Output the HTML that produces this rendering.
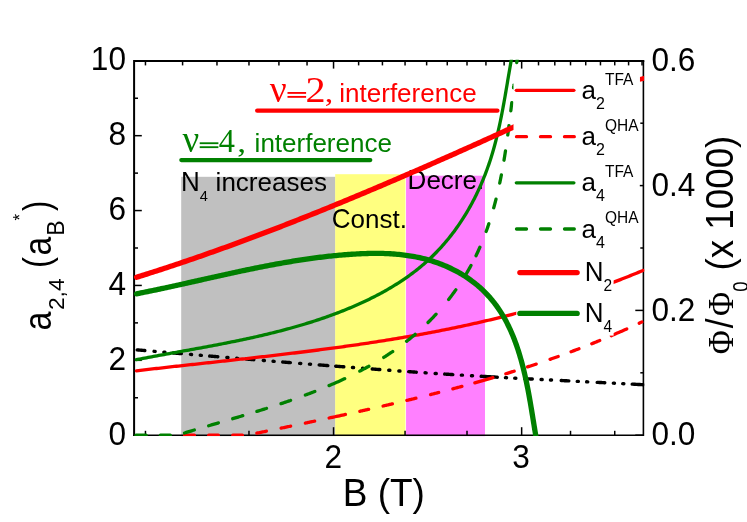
<!DOCTYPE html>
<html><head><meta charset="utf-8"><title>chart</title>
<style>
html,body{margin:0;padding:0;background:#fff;}
body{width:747px;height:522px;overflow:hidden;font-family:"Liberation Sans",sans-serif;}
svg{display:block;will-change:transform;}
</style></head><body>
<svg width="747" height="522" viewBox="0 0 747 522">
<rect width="747" height="522" fill="#fff"/>
<!-- shaded regions -->
<rect x="181.2" y="176.8" width="154.2" height="259.4" fill="#c0c0c0"/>
<rect x="335.2" y="174.2" width="70.2" height="262" fill="#ffff80"/>
<rect x="406.05" y="175.7" width="78.95" height="260.5" fill="#ff80ff"/>
<!-- region labels -->
<text transform="translate(181.00,190.60) scale(1,1.040)" font-size="26.00" font-family="Liberation Sans, sans-serif" >N<tspan font-size="14.6" dy="10.2">4</tspan></text><text transform="translate(215.62,190.50) scale(1,1.000)" font-size="26.00" font-family="Liberation Sans, sans-serif" >increases</text>
<text transform="translate(331.80,227.70) scale(1,1.040)" font-size="26.00" font-family="Liberation Sans, sans-serif" >C</text><text transform="translate(350.58,227.70) scale(1,1.000)" font-size="26.00" font-family="Liberation Sans, sans-serif" >onst.</text>
<text transform="translate(407.60,189.30) scale(1,1.040)" font-size="26.00" font-family="Liberation Sans, sans-serif" >D</text><text transform="translate(426.38,189.30) scale(1,1.000)" font-size="26.00" font-family="Liberation Sans, sans-serif" >ecre.</text>
<!-- frame -->
<path d="M134.0 436.0V60.8H644.1999999999999" fill="none" stroke="#000" stroke-width="2" stroke-linejoin="miter" transform="translate(0.1,0.1)"/>
<path d="M133.0 435.2H643.4V60.8" fill="none" stroke="#000" stroke-width="1.6" stroke-linejoin="miter"/>
<line x1="134.00" y1="435.20" x2="141.80" y2="435.20" stroke="#000" stroke-width="1.50"/><line x1="134.00" y1="397.76" x2="138.00" y2="397.76" stroke="#000" stroke-width="1.50"/><line x1="134.00" y1="360.32" x2="141.80" y2="360.32" stroke="#000" stroke-width="1.50"/><line x1="134.00" y1="322.88" x2="138.00" y2="322.88" stroke="#000" stroke-width="1.50"/><line x1="134.00" y1="285.44" x2="141.80" y2="285.44" stroke="#000" stroke-width="1.50"/><line x1="134.00" y1="248.00" x2="138.00" y2="248.00" stroke="#000" stroke-width="1.50"/><line x1="134.00" y1="210.56" x2="141.80" y2="210.56" stroke="#000" stroke-width="1.50"/><line x1="134.00" y1="173.12" x2="138.00" y2="173.12" stroke="#000" stroke-width="1.50"/><line x1="134.00" y1="135.68" x2="141.80" y2="135.68" stroke="#000" stroke-width="1.50"/><line x1="134.00" y1="98.24" x2="138.00" y2="98.24" stroke="#000" stroke-width="1.50"/><line x1="134.00" y1="60.80" x2="141.80" y2="60.80" stroke="#000" stroke-width="1.50"/><line x1="643.40" y1="435.20" x2="635.30" y2="435.20" stroke="#000" stroke-width="1.50"/><line x1="643.40" y1="372.80" x2="640.30" y2="372.80" stroke="#000" stroke-width="1.50"/><line x1="643.40" y1="310.40" x2="635.30" y2="310.40" stroke="#000" stroke-width="1.50"/><line x1="643.40" y1="248.00" x2="640.30" y2="248.00" stroke="#000" stroke-width="1.50"/><line x1="643.40" y1="185.60" x2="635.30" y2="185.60" stroke="#000" stroke-width="1.50"/><line x1="643.40" y1="123.20" x2="640.30" y2="123.20" stroke="#000" stroke-width="1.50"/><line x1="643.40" y1="60.80" x2="635.30" y2="60.80" stroke="#000" stroke-width="1.50"/><line x1="145.46" y1="60.80" x2="145.46" y2="65.40" stroke="#000" stroke-width="1.50"/><line x1="182.59" y1="60.80" x2="182.59" y2="65.40" stroke="#000" stroke-width="1.50"/><line x1="216.97" y1="60.80" x2="216.97" y2="65.40" stroke="#000" stroke-width="1.50"/><line x1="248.97" y1="60.80" x2="248.97" y2="65.40" stroke="#000" stroke-width="1.50"/><line x1="278.91" y1="60.80" x2="278.91" y2="65.40" stroke="#000" stroke-width="1.50"/><line x1="307.04" y1="60.80" x2="307.04" y2="65.40" stroke="#000" stroke-width="1.50"/><line x1="333.55" y1="60.80" x2="333.55" y2="68.60" stroke="#000" stroke-width="1.50"/><line x1="358.63" y1="60.80" x2="358.63" y2="65.40" stroke="#000" stroke-width="1.50"/><line x1="382.43" y1="60.80" x2="382.43" y2="65.40" stroke="#000" stroke-width="1.50"/><line x1="405.06" y1="60.80" x2="405.06" y2="65.40" stroke="#000" stroke-width="1.50"/><line x1="426.64" y1="60.80" x2="426.64" y2="65.40" stroke="#000" stroke-width="1.50"/><line x1="447.26" y1="60.80" x2="447.26" y2="65.40" stroke="#000" stroke-width="1.50"/><line x1="467.01" y1="60.80" x2="467.01" y2="65.40" stroke="#000" stroke-width="1.50"/><line x1="485.94" y1="60.80" x2="485.94" y2="65.40" stroke="#000" stroke-width="1.50"/><line x1="504.14" y1="60.80" x2="504.14" y2="65.40" stroke="#000" stroke-width="1.50"/><line x1="521.65" y1="60.80" x2="521.65" y2="68.60" stroke="#000" stroke-width="1.50"/><line x1="538.52" y1="60.80" x2="538.52" y2="65.40" stroke="#000" stroke-width="1.50"/><line x1="554.80" y1="60.80" x2="554.80" y2="65.40" stroke="#000" stroke-width="1.50"/><line x1="570.52" y1="60.80" x2="570.52" y2="65.40" stroke="#000" stroke-width="1.50"/><line x1="585.73" y1="60.80" x2="585.73" y2="65.40" stroke="#000" stroke-width="1.50"/><line x1="600.46" y1="60.80" x2="600.46" y2="65.40" stroke="#000" stroke-width="1.50"/><line x1="614.74" y1="60.80" x2="614.74" y2="65.40" stroke="#000" stroke-width="1.50"/><line x1="628.59" y1="60.80" x2="628.59" y2="65.40" stroke="#000" stroke-width="1.50"/><line x1="642.03" y1="60.80" x2="642.03" y2="65.40" stroke="#000" stroke-width="1.50"/><line x1="145.46" y1="435.20" x2="145.46" y2="430.80" stroke="#000" stroke-width="1.50"/><line x1="248.97" y1="435.20" x2="248.97" y2="430.80" stroke="#000" stroke-width="1.50"/><line x1="333.55" y1="435.20" x2="333.55" y2="427.20" stroke="#000" stroke-width="1.50"/><line x1="405.06" y1="435.20" x2="405.06" y2="430.80" stroke="#000" stroke-width="1.50"/><line x1="467.01" y1="435.20" x2="467.01" y2="430.80" stroke="#000" stroke-width="1.50"/><line x1="521.65" y1="435.20" x2="521.65" y2="427.20" stroke="#000" stroke-width="1.50"/><line x1="570.52" y1="435.20" x2="570.52" y2="430.80" stroke="#000" stroke-width="1.50"/><line x1="614.74" y1="435.20" x2="614.74" y2="430.80" stroke="#000" stroke-width="1.50"/>
<!-- data curves -->
<clipPath id="pc"><rect x="133.1" y="59.8" width="511.2" height="376.3"/></clipPath>
<g fill="none" stroke-linejoin="round" clip-path="url(#pc)">
<path d="M137.19 349.88L137.50 349.90L138.00 349.95L138.50 349.99L139.00 350.03L139.50 350.08L140.00 350.12L140.50 350.16L141.00 350.21L141.50 350.25L142.00 350.29L142.50 350.34L143.00 350.38L143.50 350.42L144.00 350.47L144.50 350.51L144.81 350.54M173.19 352.97L173.50 353.00L174.00 353.04L174.50 353.08L175.00 353.13L175.50 353.17L176.00 353.21L176.50 353.25L177.00 353.30L177.50 353.34L178.00 353.38L178.50 353.42L179.00 353.47L179.50 353.51L180.00 353.55L180.50 353.59L181.00 353.64L181.31 353.66M209.69 356.05L210.00 356.07L210.50 356.12L211.00 356.16L211.50 356.20L212.00 356.24L212.50 356.28L213.00 356.32L213.50 356.37L214.00 356.41L214.50 356.45L215.00 356.49L215.50 356.53L216.00 356.57L216.50 356.62L217.00 356.66L217.50 356.70L217.81 356.72M246.19 359.06L246.50 359.09L247.00 359.13L247.50 359.17L248.00 359.21L248.50 359.25L249.00 359.29L249.50 359.33L250.00 359.37L250.50 359.41L251.00 359.46L251.50 359.50L252.00 359.54L252.50 359.58L253.00 359.62L253.50 359.66L253.81 359.68M282.69 362.02L283.00 362.04L283.50 362.08L284.00 362.12L284.50 362.16L285.00 362.20L285.50 362.24L286.00 362.28L286.50 362.32L287.00 362.36L287.50 362.40L288.00 362.44L288.50 362.48L289.00 362.52L289.50 362.56L290.00 362.60L290.31 362.62M319.19 364.91L319.50 364.93L320.00 364.97L320.50 365.01L321.00 365.05L321.50 365.09L322.00 365.13L322.50 365.17L323.00 365.21L323.50 365.24L324.00 365.28L324.50 365.32L325.00 365.36L325.50 365.40L326.00 365.44L326.50 365.48L327.00 365.52L327.50 365.56L327.81 365.58M335.69 366.19L336.00 366.22L336.50 366.26L337.00 366.30L337.50 366.33L338.00 366.37L338.50 366.41L339.00 366.45L339.50 366.49L340.00 366.53L340.50 366.57L341.00 366.61L341.50 366.64L342.00 366.68L342.50 366.72L343.00 366.76L343.50 366.80L343.81 366.82M372.20 369.00L372.50 369.02L373.00 369.06L373.50 369.10L374.00 369.13L374.50 369.17L375.00 369.21L375.50 369.25L376.00 369.28L376.50 369.32L377.00 369.36L377.50 369.40L378.00 369.43L378.50 369.47L379.00 369.51L379.50 369.55L379.80 369.57M408.70 371.65L409.00 371.67L409.50 371.71L410.00 371.74L410.50 371.78L411.00 371.81L411.50 371.85L412.00 371.88L412.50 371.92L413.00 371.95L413.50 371.99L414.00 372.02L414.50 372.05L415.00 372.09L415.50 372.12L416.00 372.16L416.30 372.18M444.70 374.06L445.00 374.08L445.50 374.11L446.00 374.15L446.50 374.18L447.00 374.21L447.50 374.24L448.00 374.27L448.50 374.30L449.00 374.34L449.50 374.37L450.00 374.40L450.50 374.43L451.00 374.46L451.50 374.49L452.00 374.53L452.50 374.56L452.80 374.58M481.20 376.29L482.50 376.37L484.00 376.46L485.50 376.54L487.00 376.63L488.50 376.72L490.00 376.80L491.50 376.89L493.00 376.97L494.50 377.05L496.00 377.14L497.30 377.21M524.70 378.68L525.00 378.69L525.50 378.72L526.00 378.74L526.50 378.77L527.00 378.79L527.50 378.82L528.00 378.84L528.50 378.87L529.00 378.90L529.50 378.92L530.00 378.95L530.50 378.97L531.00 379.00L531.50 379.02L532.00 379.05L532.30 379.06M561.20 380.52L561.50 380.54L562.00 380.56L562.50 380.59L563.00 380.61L563.50 380.64L564.00 380.66L564.50 380.69L565.00 380.71L565.50 380.74L566.00 380.76L566.50 380.79L567.00 380.82L567.50 380.84L568.00 380.87L568.50 380.89L568.80 380.91M597.20 382.35L597.50 382.36L598.00 382.39L598.50 382.41L599.00 382.44L599.50 382.47L600.00 382.49L600.50 382.52L601.00 382.54L601.50 382.57L602.00 382.59L602.50 382.62L603.00 382.64L603.50 382.67L604.00 382.69L604.50 382.72L604.80 382.74M632.20 384.13L633.00 384.17L634.00 384.22L635.00 384.28L636.00 384.33L637.00 384.38L638.00 384.43L639.00 384.48L640.00 384.53L641.00 384.58L642.00 384.63L643.00 384.68L643.30 384.70M154.05 351.33L155.15 351.43M163.85 352.17L164.95 352.27M190.45 354.43L191.55 354.53M200.25 355.26L201.35 355.35M226.85 357.47L227.95 357.56M236.65 358.28L237.75 358.37M263.25 360.45L264.35 360.54M273.05 361.24L274.15 361.33M299.65 363.37L300.75 363.45M309.45 364.14L310.55 364.23M352.45 367.49L353.55 367.57M362.55 368.26L363.65 368.35M388.75 370.23L389.85 370.31M398.85 370.96L399.95 371.04M425.05 372.77L426.15 372.85M435.15 373.44L436.25 373.52M461.35 375.11L462.45 375.17M471.45 375.72L472.55 375.78M541.05 379.50L542.15 379.56M550.45 379.98L551.55 380.03M577.25 381.34L578.35 381.39M586.65 381.81L587.75 381.87M613.35 383.17L614.45 383.23M622.75 383.65L623.85 383.71M505.45 377.66L506.55 377.72M514.75 378.16L515.85 378.22" stroke="#000" stroke-width="3.4" stroke-linecap="round"/>
<path d="M136.40 370.82L138.40 370.58L140.40 370.35L142.40 370.11L144.40 369.88L146.40 369.65L148.40 369.42L150.40 369.19L152.40 368.96L154.40 368.73L156.40 368.50L158.40 368.28L160.40 368.05L162.40 367.82L164.40 367.60L166.40 367.37L168.40 367.15L170.40 366.93L172.40 366.70L174.40 366.48L176.40 366.26L178.40 366.04L180.40 365.81L182.40 365.59L184.40 365.37L186.40 365.15L188.40 364.93L190.40 364.71L192.40 364.49L194.40 364.27L196.40 364.05L198.40 363.83L200.40 363.61L202.40 363.40L204.40 363.18L206.40 362.96L208.40 362.74L210.40 362.52L212.40 362.30L214.40 362.08L216.40 361.86L218.40 361.65L220.40 361.43L222.40 361.21L224.40 360.99L226.40 360.77L228.40 360.55L230.40 360.33L232.40 360.11L234.40 359.89L236.40 359.66L238.40 359.44L240.40 359.22L242.40 359.00L244.40 358.78L246.40 358.55L248.40 358.33L250.40 358.11L252.40 357.88L254.40 357.66L256.40 357.43L258.40 357.20L260.40 356.98L262.40 356.75L264.40 356.52L266.40 356.29L268.40 356.06L270.40 355.83L272.40 355.60L274.40 355.37L276.40 355.13L278.40 354.90L280.40 354.66L282.40 354.43L284.40 354.19L286.40 353.95L288.40 353.71L290.40 353.47L292.40 353.23L294.40 352.99L296.40 352.75L298.40 352.50L300.40 352.26L302.40 352.01L304.40 351.76L306.40 351.51L308.40 351.26L310.40 351.01L312.40 350.76L314.40 350.50L316.40 350.25L318.40 349.99L320.40 349.73L322.40 349.47L324.40 349.21L326.40 348.95L328.40 348.68L330.40 348.41L332.40 348.15L334.40 347.88L336.40 347.61L338.40 347.33L340.40 347.06L342.40 346.78L344.40 346.51L346.40 346.23L348.40 345.94L350.40 345.66L352.40 345.38L354.40 345.09L356.40 344.80L358.40 344.51L360.40 344.22L362.40 343.92L364.40 343.63L366.40 343.33L368.40 343.03L370.40 342.72L372.40 342.42L374.40 342.11L376.40 341.80L378.40 341.49L380.40 341.18L382.40 340.86L384.40 340.54L386.40 340.22L388.40 339.90L390.40 339.58L392.40 339.25L394.40 338.92L396.40 338.59L398.40 338.25L400.40 337.92L402.40 337.58L404.40 337.24L406.40 336.89L408.40 336.54L410.40 336.19L412.40 335.84L414.40 335.49L416.40 335.13L418.40 334.77L420.40 334.41L422.40 334.04L424.40 333.67L426.40 333.30L428.40 332.93L430.40 332.55L432.40 332.17L434.40 331.79L436.40 331.40L438.40 331.01L440.40 330.62L442.40 330.22L444.40 329.83L446.40 329.43L448.40 329.02L450.40 328.61L452.40 328.20L454.40 327.79L456.40 327.37L458.40 326.95L460.40 326.53L462.40 326.10L464.40 325.67L466.40 325.24L468.40 324.80L470.40 324.36L472.40 323.92L474.40 323.47L476.40 323.02L478.40 322.57L480.40 322.11L482.40 321.65L484.40 321.18L486.40 320.71L488.40 320.24L490.40 319.77L492.40 319.29L494.40 318.80L496.40 318.32L498.40 317.83L500.40 317.33L502.40 316.83L504.40 316.33L506.40 315.82L508.40 315.31L510.40 314.80L512.40 314.28L514.40 313.76L516.40 313.23L518.40 312.70L520.40 312.17L522.40 311.63L524.40 311.08L526.40 310.54L528.40 309.99L530.40 309.43L532.40 308.87L534.40 308.31L536.40 307.74L538.40 307.17L540.40 306.59L542.40 306.01L544.40 305.42L546.40 304.83L548.40 304.24L550.40 303.64L552.40 303.03L554.40 302.43L556.40 301.81L558.40 301.19L560.40 300.57L562.40 299.95L564.40 299.31L566.40 298.68L568.40 298.04L570.40 297.39L572.40 296.74L574.40 296.08L576.40 295.42L578.40 294.76L580.40 294.09L582.40 293.41L584.40 292.73L586.40 292.05L588.40 291.36L590.40 290.66L592.40 289.96L594.40 289.26L596.40 288.54L598.40 287.83L600.40 287.11L602.40 286.38L604.40 285.65L606.40 284.91L608.40 284.17L610.40 283.42L612.40 282.67L614.40 281.91L616.40 281.15L618.40 280.38L620.40 279.61L622.40 278.83L624.40 278.04L626.40 277.25L628.40 276.45L630.40 275.65L632.40 274.84L634.40 274.03L636.40 273.21L638.40 272.38L640.40 271.55L642.40 270.72L643.30 270.34" stroke="#ff0000" stroke-width="3.3" stroke-linecap="round"/>
<path d="M184.66 435.20L185.47 435.20L186.34 435.20L187.22 435.20L188.08 435.20L188.95 435.20L189.82 435.20L190.69 435.20L191.56 435.20L192.44 435.20L193.31 435.20L194.18 435.20L194.41 435.20M208.73 435.20L209.55 435.20L210.41 435.20L211.28 435.20L212.16 435.20L213.02 435.20L213.89 435.20L214.76 435.20L215.63 435.20L216.50 435.20L217.38 435.20L218.25 435.20L218.34 435.20M232.80 435.20L233.62 435.20L234.49 435.20L235.35 435.20L236.22 435.20L237.09 435.20L237.96 435.20L238.83 435.20L239.70 435.20L240.57 435.20L241.44 435.20L242.31 435.20L242.41 435.20M256.87 433.16L257.75 432.98L258.75 432.77L259.75 432.57L260.75 432.36L261.75 432.15L262.75 431.95L263.75 431.74L264.75 431.53L265.75 431.32L266.38 431.19M281.12 428.14L282.00 427.95L283.00 427.74L284.00 427.53L285.00 427.33L286.00 427.12L287.00 426.91L288.00 426.70L289.00 426.49L290.00 426.28L290.63 426.15M305.36 423.06L306.00 422.93L306.75 422.77L307.50 422.61L308.25 422.45L309.00 422.30L309.75 422.14L310.50 421.98L311.25 421.82L312.00 421.66L312.75 421.50L313.50 421.34L314.25 421.19L314.64 421.10M329.11 418.01L330.50 417.71L332.00 417.39L333.50 417.07L335.00 416.74L336.50 416.42L338.00 416.09L339.50 415.77L341.00 415.44L342.50 415.11L344.00 414.79L345.39 414.48M359.86 411.29L360.50 411.14L361.25 410.98L362.00 410.81L362.75 410.64L363.50 410.47L364.25 410.30L365.00 410.14L365.75 409.97L366.50 409.80L367.25 409.63L368.00 409.46L368.64 409.32M383.11 406.01L383.75 405.86L384.50 405.69L385.25 405.51L386.00 405.34L386.75 405.17L387.50 404.99L388.25 404.82L389.00 404.64L389.75 404.47L390.50 404.29L391.25 404.12L392.00 403.94L392.39 403.85M406.85 400.41L407.50 400.25L408.25 400.07L409.00 399.89L409.75 399.71L410.50 399.53L411.25 399.34L412.00 399.16L412.75 398.98L413.50 398.80L414.25 398.61L415.00 398.43L415.75 398.25L415.90 398.21M430.60 394.55L431.25 394.39L432.00 394.20L432.75 394.01L433.50 393.82L434.25 393.63L435.00 393.44L435.75 393.24L436.50 393.05L437.25 392.86L438.00 392.67L438.65 392.50M452.85 388.80L453.50 388.62L454.25 388.42L455.00 388.22L455.75 388.02L456.50 387.82L457.25 387.62L458.00 387.42L458.75 387.22L459.50 387.02L460.25 386.82L461.00 386.61L461.75 386.41L461.91 386.37M474.84 382.81L476.50 382.34L478.25 381.85L480.00 381.35L481.75 380.85L483.50 380.35L485.25 379.85L487.00 379.35L488.75 378.84L490.50 378.33L492.25 377.82L492.92 377.62M505.83 373.76L506.50 373.55L507.25 373.32L508.00 373.09L508.75 372.86L509.50 372.63L510.25 372.40L511.00 372.17L511.75 371.93L512.50 371.70L513.25 371.47L514.00 371.23L514.18 371.18M527.57 366.91L528.25 366.69L529.00 366.44L529.75 366.20L530.50 365.95L531.25 365.70L532.00 365.46L532.75 365.21L533.50 364.96L534.25 364.71L535.00 364.46L535.75 364.21L536.19 364.07M550.06 359.33L550.75 359.09L551.50 358.82L552.25 358.56L553.00 358.30L553.75 358.03L554.50 357.77L555.25 357.50L556.00 357.23L556.75 356.97L557.50 356.70L558.20 356.45M571.05 351.75L571.75 351.49L572.50 351.20L573.25 350.92L574.00 350.64L574.75 350.36L575.50 350.07L576.25 349.79L577.00 349.50L577.75 349.22L578.50 348.93L578.96 348.75M591.78 343.74L592.50 343.45L593.25 343.15L594.00 342.85L594.75 342.54L595.50 342.24L596.25 341.94L597.00 341.63L597.75 341.33L598.50 341.02L599.25 340.71L599.72 340.52M611.27 335.69L612.75 335.05L614.25 334.41L615.75 333.76L617.25 333.11L618.75 332.46L620.25 331.80L621.75 331.14L623.25 330.47L624.75 329.81L626.25 329.14L626.75 328.91M639.25 323.18L639.25 323.18L639.50 323.06L639.75 322.95L640.00 322.83L640.25 322.71L640.50 322.59L640.75 322.48L641.00 322.36L641.25 322.24L641.50 322.12L641.75 322.00L641.81 321.98" stroke="#ff0000" stroke-width="3.3" stroke-linecap="round"/>
<path d="M136.40 359.67L137.58 359.44L139.35 359.10L141.11 358.76L142.87 358.43L144.64 358.10L146.40 357.76L148.17 357.43L149.94 357.10L151.70 356.78L153.47 356.45L155.24 356.12L157.01 355.80L158.78 355.47L160.55 355.15L162.32 354.83L164.09 354.51L165.86 354.19L167.63 353.86L169.40 353.54L171.17 353.22L172.94 352.90L174.72 352.59L176.49 352.27L178.26 351.95L180.03 351.63L181.81 351.31L183.58 350.99L185.35 350.67L187.12 350.35L188.90 350.03L190.67 349.71L192.44 349.38L194.22 349.06L195.99 348.74L197.76 348.41L199.54 348.09L201.31 347.76L203.08 347.44L204.85 347.11L206.63 346.78L208.40 346.45L210.17 346.12L211.94 345.78L213.72 345.45L215.49 345.11L217.26 344.77L219.03 344.43L220.80 344.09L222.57 343.75L224.34 343.40L226.11 343.05L227.88 342.70L229.65 342.35L231.42 341.99L233.18 341.64L234.95 341.28L236.72 340.91L238.48 340.55L240.25 340.18L242.02 339.81L243.78 339.44L245.54 339.06L247.31 338.68L249.07 338.30L250.83 337.92L252.59 337.53L254.36 337.14L256.12 336.74L257.87 336.34L259.63 335.94L261.39 335.53L263.15 335.12L264.90 334.71L266.66 334.29L268.41 333.87L270.17 333.44L271.92 333.01L273.67 332.58L275.42 332.14L277.17 331.70L278.92 331.25L280.67 330.80L282.41 330.34L284.16 329.88L285.90 329.42L287.64 328.95L289.39 328.47L291.13 327.99L292.87 327.51L294.60 327.02L296.34 326.52L298.08 326.02L299.81 325.51L301.55 325.00L303.28 324.48L305.01 323.96L306.74 323.43L308.47 322.90L310.19 322.36L311.92 321.81L313.64 321.26L315.36 320.70L317.08 320.14L318.80 319.57L320.52 318.99L322.24 318.41L323.95 317.82L325.67 317.22L327.38 316.62L329.09 316.01L330.80 315.39L332.50 314.77L334.21 314.14L335.91 313.50L337.61 312.85L339.31 312.20L341.01 311.54L342.70 310.88L344.40 310.20L346.09 309.52L347.77 308.83L349.46 308.14L351.14 307.43L352.82 306.72L354.49 306.00L356.16 305.27L357.83 304.54L359.49 303.79L361.15 303.04L362.81 302.28L364.46 301.51L366.11 300.74L367.75 299.95L369.38 299.16L371.02 298.35L372.64 297.54L374.26 296.72L375.88 295.89L377.49 295.05L379.09 294.21L380.69 293.35L382.29 292.48L383.87 291.61L385.45 290.72L387.02 289.83L388.59 288.93L390.15 288.01L391.70 287.09L393.25 286.16L394.78 285.21L396.31 284.26L397.83 283.30L399.35 282.33L400.85 281.35L402.35 280.35L403.84 279.35L405.32 278.34L406.79 277.31L408.26 276.28L409.71 275.23L411.16 274.18L412.59 273.11L414.02 272.03L415.43 270.94L416.84 269.84L418.24 268.73L419.62 267.61L421.00 266.48L422.36 265.33L423.72 264.18L425.06 263.01L426.40 261.83L427.72 260.64L429.03 259.44L430.33 258.22L431.62 257.00L432.89 255.76L434.16 254.51L435.41 253.25L436.65 251.98L437.88 250.70L439.10 249.41L440.31 248.10L441.50 246.79L442.69 245.46L443.86 244.12L445.02 242.78L446.17 241.42L447.31 240.05L448.44 238.68L449.56 237.29L450.66 235.89L451.75 234.49L452.84 233.07L453.91 231.64L454.96 230.21L456.01 228.77L457.05 227.31L458.07 225.85L459.09 224.38L460.09 222.90L461.08 221.41L462.06 219.92L463.03 218.41L463.99 216.90L464.93 215.38L465.87 213.85L466.79 212.31L467.70 210.77L468.60 209.21L469.49 207.65L470.37 206.09L471.24 204.51L472.09 202.93L472.94 201.34L473.77 199.75L474.59 198.14L475.40 196.53L476.20 194.92L476.99 193.30L477.76 191.67L478.53 190.03L479.28 188.39L480.03 186.75L480.76 185.09L481.48 183.44L482.19 181.77L482.89 180.10L483.58 178.43L484.25 176.75L484.92 175.06L485.57 173.37L486.21 171.68L486.84 169.98L487.46 168.28L488.07 166.57L488.67 164.86L489.26 163.14L489.83 161.42L490.40 159.69L490.95 157.96L491.49 156.23L492.02 154.49L492.55 152.75L493.06 151.01L493.56 149.26L494.05 147.51L494.53 145.76L495.00 144.00L495.46 142.25L495.92 140.48L496.36 138.72L496.80 136.95L497.23 135.19L497.65 133.41L498.06 131.64L498.47 129.87L498.87 128.09L499.26 126.31L499.65 124.53L500.03 122.75L500.40 120.97L500.77 119.18L501.13 117.40L501.48 115.61L501.83 113.82L502.18 112.03L502.52 110.24L502.86 108.45L503.19 106.66L503.52 104.87L503.85 103.08L504.17 101.29L504.49 99.50L504.81 97.71L505.12 95.92L505.43 94.14L505.74 92.35L506.05 90.56L506.35 88.77L506.66 86.98L506.96 85.20L507.26 83.42L507.56 81.63L507.86 79.85L508.16 78.07L508.46 76.29L508.76 74.52L509.07 72.74L509.37 70.97L509.67 69.20L509.98 67.43L510.28 65.66L510.59 63.90L510.90 62.14L511.21 60.38L511.53 58.63L511.85 56.87" stroke="#008000" stroke-width="3.3" stroke-linecap="round"/>
<path d="M136.00 435.20L136.99 435.20L138.03 435.20L139.06 435.20L140.09 435.20L141.13 435.20L142.16 435.20L143.20 435.20L144.24 435.20L145.27 435.20L146.15 435.20M160.38 435.20L161.25 435.20L162.18 435.20L163.09 435.20L164.01 435.20L164.94 435.20L165.85 435.20L166.78 435.20L167.69 435.20L168.62 435.20L169.53 435.20L170.30 435.20M184.54 432.96L185.38 432.71L186.28 432.43L187.17 432.16L188.07 431.89L188.96 431.62L189.86 431.35L190.76 431.08L191.66 430.81L192.56 430.54L193.46 430.27L194.33 430.01M208.68 425.76L209.59 425.49L210.51 425.22L211.43 424.95L212.35 424.68L213.27 424.41L214.19 424.14L215.11 423.87L216.03 423.60L216.95 423.33L217.88 423.06L218.41 422.91M232.72 418.69L233.53 418.45L234.47 418.18L235.40 417.90L236.33 417.62L237.27 417.35L238.20 417.07L239.14 416.79L240.07 416.51L241.01 416.23L241.94 415.95L242.77 415.70M256.91 411.40L257.75 411.14L258.69 410.85L259.63 410.55L260.56 410.26L261.50 409.97L262.44 409.67L263.38 409.38L264.32 409.08L265.26 408.78L266.20 408.49L266.50 408.39M281.03 403.65L281.87 403.37L282.81 403.06L283.74 402.74L284.68 402.42L285.62 402.11L286.55 401.79L287.48 401.47L288.42 401.14L289.35 400.82L290.29 400.50L290.59 400.39M305.38 395.07L306.21 394.75L307.14 394.41L308.06 394.06L308.98 393.71L309.90 393.36L310.82 393.00L311.75 392.65L312.67 392.29L313.58 391.94L314.50 391.58L314.80 391.46M329.06 385.64L330.51 385.02L332.06 384.35L333.60 383.68L335.14 383.00L336.68 382.32L338.21 381.63L339.75 380.94L341.27 380.24L342.80 379.53L344.32 378.82L344.73 378.63M359.81 371.15L360.57 370.76L361.43 370.30L362.29 369.85L363.15 369.39L364.00 368.92L364.86 368.46L365.71 368.00L366.57 367.53L367.42 367.06L368.27 366.59L368.89 366.24M383.74 357.39L384.57 356.87L385.50 356.27L386.43 355.67L387.36 355.07L388.28 354.46L389.20 353.85L390.12 353.24L391.04 352.62L391.96 352.00L392.65 351.53M406.55 341.36L407.32 340.76L408.18 340.07L409.05 339.38L409.91 338.69L410.76 337.99L411.62 337.29L412.47 336.59L413.32 335.88L414.16 335.17L415.00 334.45L415.11 334.36M428.04 322.48L428.74 321.79L429.52 321.00L430.30 320.22L431.08 319.43L431.85 318.63L432.63 317.83L433.39 317.03L434.16 316.23L434.92 315.42L435.67 314.61L436.06 314.19M448.65 299.43L449.26 298.65L449.94 297.77L450.62 296.89L451.29 296.01L451.96 295.12L452.62 294.23L453.29 293.34L453.94 292.45L454.59 291.55L455.24 290.65L455.82 289.84M464.89 276.10L465.47 275.14L466.11 274.07L466.75 273.00L467.38 271.92L468.00 270.84L468.62 269.76L469.24 268.68L469.84 267.59L470.44 266.50L470.98 265.52M476.00 255.69L476.37 254.93L476.78 254.06L477.19 253.18L477.60 252.31L478.01 251.43L478.41 250.55L478.81 249.67L479.20 248.78L479.59 247.90L479.88 247.26M486.18 231.47L486.42 230.80L486.70 230.02L486.98 229.24L487.26 228.45L487.54 227.67L487.81 226.88L488.08 226.09L488.35 225.30L488.61 224.52L488.88 223.72L488.88 223.71M493.74 207.77L493.93 207.07L494.15 206.27L494.37 205.46L494.59 204.65L494.80 203.84L495.02 203.03L495.23 202.22L495.44 201.41L495.65 200.60L495.85 199.78L496.00 199.21M499.73 183.02L499.88 182.30L500.05 181.48L500.22 180.65L500.39 179.83L500.56 179.00L500.72 178.17L500.89 177.35L501.05 176.52L501.21 175.69L501.35 174.96M504.00 160.21L504.12 159.48L504.26 158.64L504.39 157.81L504.53 156.98L504.66 156.14L504.80 155.31L504.93 154.47L505.06 153.64L505.19 152.80L505.32 151.96L505.45 151.13L505.48 150.95M507.77 134.99L507.89 134.11L508.02 133.14L508.15 132.16L508.28 131.18L508.40 130.21L508.53 129.23L508.66 128.25L508.78 127.28L508.91 126.30L509.00 125.57M510.82 110.88L510.90 110.16L511.00 109.33L511.10 108.49L511.20 107.66L511.30 106.83L511.40 106.00L511.50 105.17L511.60 104.34L511.70 103.51L511.79 102.68L511.80 102.65M513.56 87.80L513.58 87.66L513.61 87.38L513.64 87.11L513.68 86.84L513.71 86.56L513.74 86.29L513.77 86.01L513.81 85.74L513.84 85.47L513.87 85.19L513.87 85.19M516.75 62.54L516.84 61.92L516.97 60.94L517.10 59.96L517.24 58.98L517.37 58.01L517.50 57.03L517.63 56.05L517.77 55.07L517.90 54.09L517.98 53.52" stroke="#008000" stroke-width="3.3" stroke-linecap="round"/>
<path d="M136.60 277.27L138.60 276.64L140.60 276.02L142.60 275.39L144.60 274.76L146.60 274.12L148.60 273.49L150.60 272.85L152.60 272.21L154.60 271.56L156.60 270.92L158.60 270.27L160.60 269.62L162.60 268.97L164.60 268.31L166.60 267.65L168.60 266.99L170.60 266.33L172.60 265.67L174.60 265.00L176.60 264.33L178.60 263.66L180.60 262.99L182.60 262.31L184.60 261.63L186.60 260.95L188.60 260.27L190.60 259.59L192.60 258.90L194.60 258.21L196.60 257.52L198.60 256.83L200.60 256.13L202.60 255.44L204.60 254.74L206.60 254.03L208.60 253.33L210.60 252.62L212.60 251.92L214.60 251.21L216.60 250.49L218.60 249.78L220.60 249.06L222.60 248.35L224.60 247.62L226.60 246.90L228.60 246.18L230.60 245.45L232.60 244.72L234.60 243.99L236.60 243.26L238.60 242.53L240.60 241.79L242.60 241.05L244.60 240.31L246.60 239.57L248.60 238.82L250.60 238.08L252.60 237.33L254.60 236.58L256.60 235.83L258.60 235.07L260.60 234.32L262.60 233.56L264.60 232.80L266.60 232.04L268.60 231.28L270.60 230.51L272.60 229.75L274.60 228.98L276.60 228.21L278.60 227.44L280.60 226.66L282.60 225.89L284.60 225.11L286.60 224.33L288.60 223.55L290.60 222.77L292.60 221.99L294.60 221.20L296.60 220.41L298.60 219.62L300.60 218.83L302.60 218.04L304.60 217.25L306.60 216.45L308.60 215.65L310.60 214.85L312.60 214.05L314.60 213.25L316.60 212.45L318.60 211.64L320.60 210.84L322.60 210.03L324.60 209.22L326.60 208.41L328.60 207.59L330.60 206.78L332.60 205.96L334.60 205.14L336.60 204.33L338.60 203.51L340.60 202.68L342.60 201.86L344.60 201.03L346.60 200.21L348.60 199.38L350.60 198.55L352.60 197.72L354.60 196.89L356.60 196.05L358.60 195.22L360.60 194.38L362.60 193.55L364.60 192.71L366.60 191.87L368.60 191.02L370.60 190.18L372.60 189.34L374.60 188.49L376.60 187.64L378.60 186.80L380.60 185.95L382.60 185.10L384.60 184.24L386.60 183.39L388.60 182.54L390.60 181.68L392.60 180.82L394.60 179.97L396.60 179.11L398.60 178.25L400.60 177.38L402.60 176.52L404.60 175.66L406.60 174.79L408.60 173.93L410.60 173.06L412.60 172.19L414.60 171.32L416.60 170.45L418.60 169.58L420.60 168.70L422.60 167.83L424.60 166.95L426.60 166.08L428.60 165.20L430.60 164.32L432.60 163.44L434.60 162.56L436.60 161.68L438.60 160.80L440.60 159.92L442.60 159.03L444.60 158.15L446.60 157.26L448.60 156.37L450.60 155.48L452.60 154.60L454.60 153.71L456.60 152.81L458.60 151.92L460.60 151.03L462.60 150.14L464.60 149.24L466.60 148.35L468.60 147.45L470.60 146.55L472.60 145.66L474.60 144.76L476.60 143.86L478.60 142.96L480.60 142.06L482.60 141.16L484.60 140.25L486.60 139.35L488.60 138.45L490.60 137.54L492.60 136.63L494.60 135.73L496.60 134.82L498.60 133.91L500.60 133.01L502.60 132.10L504.60 131.19L506.60 130.28L508.60 129.36L510.60 128.45L512.60 127.54L514.60 126.63L516.00 125.99" stroke="#ff0000" stroke-width="5.3" stroke-linecap="round"/>
<path d="M136.60 293.80L137.40 293.64L139.12 293.30L140.83 292.96L142.54 292.62L144.26 292.27L145.97 291.92L147.68 291.57L149.39 291.22L151.10 290.87L152.81 290.51L154.52 290.15L156.23 289.79L157.94 289.43L159.65 289.07L161.35 288.70L163.06 288.34L164.77 287.97L166.48 287.60L168.18 287.23L169.89 286.86L171.59 286.49L173.30 286.11L175.00 285.74L176.71 285.36L178.41 284.98L180.12 284.61L181.82 284.23L183.53 283.85L185.23 283.47L186.93 283.09L188.63 282.71L190.34 282.33L192.04 281.95L193.74 281.57L195.45 281.18L197.15 280.80L198.85 280.42L200.55 280.04L202.25 279.66L203.96 279.27L205.66 278.89L207.36 278.51L209.06 278.13L210.76 277.75L212.47 277.37L214.17 276.99L215.87 276.61L217.57 276.23L219.27 275.85L220.98 275.47L222.68 275.10L224.38 274.72L226.08 274.35L227.79 273.97L229.49 273.60L231.19 273.23L232.89 272.86L234.60 272.49L236.30 272.13L238.01 271.76L239.71 271.40L241.41 271.03L243.12 270.67L244.82 270.31L246.53 269.96L248.23 269.60L249.94 269.25L251.65 268.90L253.35 268.55L255.06 268.20L256.77 267.85L258.47 267.51L260.18 267.17L261.89 266.83L263.60 266.50L265.31 266.16L267.02 265.83L268.73 265.51L270.44 265.18L272.15 264.86L273.86 264.54L275.58 264.22L277.29 263.91L279.00 263.60L280.72 263.29L282.43 262.99L284.15 262.69L285.86 262.39L287.58 262.10L289.30 261.81L291.02 261.52L292.73 261.24L294.45 260.96L296.17 260.68L297.90 260.41L299.62 260.14L301.34 259.88L303.06 259.62L304.79 259.36L306.51 259.11L308.24 258.86L309.96 258.62L311.69 258.38L313.42 258.14L315.15 257.91L316.88 257.69L318.61 257.47L320.34 257.25L322.07 257.04L323.81 256.83L325.54 256.63L327.28 256.44L329.02 256.24L330.75 256.06L332.49 255.88L334.23 255.70L335.97 255.53L337.71 255.36L339.46 255.20L341.20 255.05L342.95 254.90L344.69 254.76L346.44 254.62L348.19 254.49L349.94 254.36L351.69 254.24L353.44 254.13L355.20 254.02L356.95 253.92L358.70 253.83L360.46 253.74L362.22 253.67L363.97 253.60L365.73 253.54L367.48 253.48L369.24 253.44L371.00 253.41L372.75 253.39L374.51 253.37L376.26 253.37L378.02 253.38L379.77 253.40L381.52 253.43L383.28 253.47L385.03 253.53L386.78 253.60L388.53 253.68L390.27 253.77L392.02 253.88L393.76 254.00L395.50 254.13L397.24 254.28L398.98 254.45L400.72 254.63L402.45 254.82L404.18 255.03L405.91 255.26L407.64 255.51L409.36 255.77L411.08 256.04L412.80 256.34L414.51 256.65L416.23 256.98L417.93 257.33L419.64 257.70L421.34 258.09L423.04 258.50L424.73 258.92L426.42 259.37L428.10 259.84L429.79 260.33L431.46 260.83L433.13 261.36L434.79 261.91L436.45 262.48L438.10 263.07L439.75 263.67L441.38 264.30L443.01 264.95L444.63 265.62L446.24 266.31L447.85 267.01L449.44 267.74L451.02 268.49L452.60 269.26L454.16 270.04L455.71 270.85L457.25 271.68L458.78 272.52L460.29 273.39L461.79 274.28L463.28 275.18L464.76 276.11L466.22 277.05L467.67 278.02L469.10 279.00L470.52 280.00L471.92 281.03L473.31 282.07L474.68 283.13L476.03 284.21L477.37 285.31L478.69 286.43L479.99 287.57L481.27 288.73L482.53 289.91L483.78 291.11L485.00 292.32L486.21 293.56L487.40 294.81L488.57 296.08L489.71 297.37L490.84 298.68L491.95 300.00L493.04 301.34L494.11 302.70L495.17 304.07L496.20 305.45L497.21 306.86L498.20 308.27L499.18 309.70L500.13 311.15L501.07 312.60L501.98 314.07L502.88 315.56L503.76 317.05L504.62 318.56L505.46 320.08L506.28 321.61L507.08 323.15L507.87 324.71L508.63 326.27L509.39 327.84L510.12 329.42L510.84 331.01L511.54 332.61L512.23 334.22L512.90 335.84L513.55 337.46L514.20 339.10L514.82 340.73L515.43 342.38L516.03 344.03L516.62 345.69L517.19 347.35L517.75 349.02L518.30 350.69L518.83 352.37L519.35 354.05L519.86 355.74L520.36 357.43L520.85 359.12L521.32 360.82L521.79 362.52L522.25 364.23L522.69 365.93L523.13 367.65L523.55 369.36L523.97 371.08L524.38 372.79L524.78 374.51L525.17 376.24L525.55 377.96L525.93 379.69L526.30 381.41L526.66 383.14L527.01 384.87L527.36 386.60L527.70 388.33L528.04 390.06L528.36 391.79L528.69 393.52L529.01 395.25L529.32 396.98L529.63 398.71L529.94 400.44L530.24 402.17L530.53 403.89L530.83 405.61L531.12 407.34L531.41 409.06L531.69 410.78L531.97 412.49L532.26 414.20L532.54 415.92L532.81 417.62L533.09 419.33L533.37 421.03L533.64 422.73L533.92 424.42L534.19 426.11L534.47 427.80L534.74 429.48L535.02 431.16L535.30 432.83L535.58 434.50L535.86 436.16L536.14 437.81" stroke="#008000" stroke-width="5.3" stroke-linecap="round"/>
<polygon points="639.8,76.9 644.4,75.7 644.4,80.8 639.8,81.8" fill="#ff0000" stroke="none"/>
</g>
<!-- titles with underlines -->
<line x1="257.2" y1="110.7" x2="497.4" y2="110.7" stroke="#ff0000" stroke-width="4.3" stroke-linecap="round"/>
<line x1="181.3" y1="160.1" x2="370.3" y2="160.1" stroke="#008000" stroke-width="4.2" stroke-linecap="round"/>
<text transform="translate(269.77,101.82) scale(0.3750,0.3830)" font-size="100" font-family="Liberation Serif, serif" fill="#ff0000">ν</text><rect x="287.50" y="92.00" width="18.60" height="1.85" fill="#ff0000"/><rect x="287.50" y="95.95" width="18.60" height="1.85" fill="#ff0000"/><text transform="translate(305.46,101.90) scale(0.4025,0.3573)" font-size="100" font-family="Liberation Serif, serif" fill="#ff0000">2</text><text transform="translate(324.75,101.72) scale(0.3400,0.2727)" font-size="100" font-family="Liberation Serif, serif" fill="#ff0000">,</text><text transform="translate(339.30,101.70) scale(1,1.000)" font-size="26.00" fill="#ff0000" font-family="Liberation Sans, sans-serif" >interference</text>
<text transform="translate(182.38,151.82) scale(0.3703,0.3766)" font-size="100" font-family="Liberation Serif, serif" fill="#008000">ν</text><rect x="199.70" y="142.30" width="18.70" height="1.85" fill="#008000"/><rect x="199.70" y="146.25" width="18.70" height="1.85" fill="#008000"/><text transform="translate(218.65,151.90) scale(0.3237,0.3470)" font-size="100" font-family="Liberation Serif, serif" fill="#008000">4</text><text transform="translate(237.30,152.04) scale(0.3533,0.3039)" font-size="100" font-family="Liberation Serif, serif" fill="#008000">,</text><text transform="translate(254.60,151.70) scale(1,1.000)" font-size="26.00" fill="#008000" font-family="Liberation Sans, sans-serif" >interference</text>
<!-- legends -->
<rect x="513.5" y="70" width="126.3" height="181" fill="#fff"/>
<rect x="516.3" y="251" width="97.3" height="84.6" fill="#fff"/>
<g fill="none" stroke-linecap="round">
<line x1="516.3" y1="90.3" x2="573.9" y2="90.3" stroke="#ff0000" stroke-width="3.3"/>
<line x1="516.5" y1="136.7" x2="574.3" y2="136.7" stroke="#ff0000" stroke-width="3.3" stroke-dasharray="10 14"/>
<line x1="516.3" y1="182.8" x2="573.9" y2="182.8" stroke="#008000" stroke-width="3.3"/>
<line x1="516.5" y1="229.0" x2="574.3" y2="229.0" stroke="#008000" stroke-width="3.3" stroke-dasharray="10 14"/>
<line x1="519.9" y1="272.6" x2="577.1" y2="272.6" stroke="#ff0000" stroke-width="5.4"/>
<line x1="519.9" y1="313.4" x2="577.1" y2="313.4" stroke="#008000" stroke-width="5.4"/>
</g>
<g font-size="26" font-family="Liberation Sans, sans-serif" fill="#000">
<text transform="translate(581.60,99.00) scale(1,1.000)" font-size="26.00" font-family="Liberation Sans, sans-serif" >a</text><text transform="translate(596.06,109.40) scale(1,1.040)" font-size="16.00" font-family="Liberation Sans, sans-serif" >2</text><text transform="translate(604.96,84.90) scale(1,1.040)" font-size="15.50" font-family="Liberation Sans, sans-serif" >TFA</text>
<text transform="translate(581.60,145.00) scale(1,1.000)" font-size="26.00" font-family="Liberation Sans, sans-serif" >a</text><text transform="translate(596.06,155.40) scale(1,1.040)" font-size="16.00" font-family="Liberation Sans, sans-serif" >2</text><text transform="translate(604.96,130.90) scale(1,1.040)" font-size="15.50" font-family="Liberation Sans, sans-serif" >QHA</text>
<text transform="translate(581.60,191.00) scale(1,1.000)" font-size="26.00" font-family="Liberation Sans, sans-serif" >a</text><text transform="translate(596.06,201.40) scale(1,1.040)" font-size="16.00" font-family="Liberation Sans, sans-serif" >4</text><text transform="translate(604.96,176.90) scale(1,1.040)" font-size="15.50" font-family="Liberation Sans, sans-serif" >TFA</text>
<text transform="translate(581.60,237.50) scale(1,1.000)" font-size="26.00" font-family="Liberation Sans, sans-serif" >a</text><text transform="translate(596.06,247.90) scale(1,1.040)" font-size="16.00" font-family="Liberation Sans, sans-serif" >4</text><text transform="translate(604.96,223.40) scale(1,1.040)" font-size="15.50" font-family="Liberation Sans, sans-serif" >QHA</text>
<text transform="translate(584.80,280.60) scale(1,1.040)" font-size="26.00" font-family="Liberation Sans, sans-serif" >N<tspan font-size="15.5" dy="10.3">2</tspan></text>
<text transform="translate(584.80,321.60) scale(1,1.040)" font-size="26.00" font-family="Liberation Sans, sans-serif" >N<tspan font-size="15.5" dy="10.3">4</tspan></text>
</g>
<!-- tick labels -->
<g fill="#000">
<text transform="translate(126.00,444.80) scale(1,1.040)" font-size="31.60" text-anchor="end" font-family="Liberation Sans, sans-serif" >0</text><text transform="translate(126.00,369.92) scale(1,1.040)" font-size="31.60" text-anchor="end" font-family="Liberation Sans, sans-serif" >2</text><text transform="translate(126.00,295.04) scale(1,1.040)" font-size="31.60" text-anchor="end" font-family="Liberation Sans, sans-serif" >4</text><text transform="translate(126.00,220.16) scale(1,1.040)" font-size="31.60" text-anchor="end" font-family="Liberation Sans, sans-serif" >6</text><text transform="translate(126.00,145.28) scale(1,1.040)" font-size="31.60" text-anchor="end" font-family="Liberation Sans, sans-serif" >8</text><text transform="translate(126.00,70.40) scale(1,1.040)" font-size="31.60" text-anchor="end" font-family="Liberation Sans, sans-serif" >10</text><text transform="translate(651.40,445.30) scale(1,1.040)" font-size="31.60" font-family="Liberation Sans, sans-serif" >0.0</text><text transform="translate(651.40,320.50) scale(1,1.040)" font-size="31.60" font-family="Liberation Sans, sans-serif" >0.2</text><text transform="translate(651.40,195.70) scale(1,1.040)" font-size="31.60" font-family="Liberation Sans, sans-serif" >0.4</text><text transform="translate(651.40,70.90) scale(1,1.040)" font-size="31.60" font-family="Liberation Sans, sans-serif" >0.6</text><text transform="translate(333.30,467.70) scale(1,1.040)" font-size="31.60" text-anchor="middle" font-family="Liberation Sans, sans-serif" >2</text><text transform="translate(521.00,467.70) scale(1,1.040)" font-size="31.60" text-anchor="middle" font-family="Liberation Sans, sans-serif" >3</text>
</g>
<!-- axis titles -->
<text transform="translate(342.70,505.90) scale(1,1.040)" font-size="37.00" font-family="Liberation Sans, sans-serif" >B (T)</text>
<text transform="translate(51.01,330.58) rotate(-90) scale(0.3409,0.3896)" font-size="100" font-family="Liberation Sans, sans-serif" fill="#000">a</text><g transform="translate(63.5,310.1) rotate(-90) scale(1.04,0.97)"><text font-size="22" font-family="Liberation Sans, sans-serif">2,4</text></g><text transform="translate(50.04,268.07) rotate(-90) scale(0.3266,0.3804)" font-size="100" font-family="Liberation Sans, sans-serif" fill="#000">(</text><text transform="translate(51.00,255.46) rotate(-90) scale(0.3370,0.3951)" font-size="100" font-family="Liberation Sans, sans-serif" fill="#000">a</text><text transform="translate(64.30,235.72) rotate(-90) scale(0.2302,0.2319)" font-size="100" font-family="Liberation Sans, sans-serif" fill="#000">B</text><text transform="translate(26.29,220.58) rotate(-90) scale(0.1682,0.1868)" font-size="100" font-family="Liberation Sans, sans-serif" fill="#000">*</text><text transform="translate(50.04,211.11) rotate(-90) scale(0.3076,0.3804)" font-size="100" font-family="Liberation Sans, sans-serif" fill="#000">)</text>
<text transform="translate(733.10,354.19) rotate(-90) scale(0.3284,0.3563)" font-size="100" font-family="Liberation Serif, serif" fill="#000">Φ</text><g transform="translate(733.0,328.2) rotate(-90) scale(0.95,1.035)"><text font-size="36.8" font-family="Liberation Sans, sans-serif">/</text></g><text transform="translate(733.10,315.89) rotate(-90) scale(0.3299,0.3563)" font-size="100" font-family="Liberation Serif, serif" fill="#000">Φ</text><text transform="translate(747.98,291.64) rotate(-90) scale(0.1846,0.2165)" font-size="100" font-family="Liberation Sans, sans-serif" fill="#000">0</text><g transform="translate(733.0,270.6) rotate(-90) scale(1,1.035)"><text font-size="36.8" font-family="Liberation Sans, sans-serif">(x 1000)</text></g>
</svg>
</body></html>
